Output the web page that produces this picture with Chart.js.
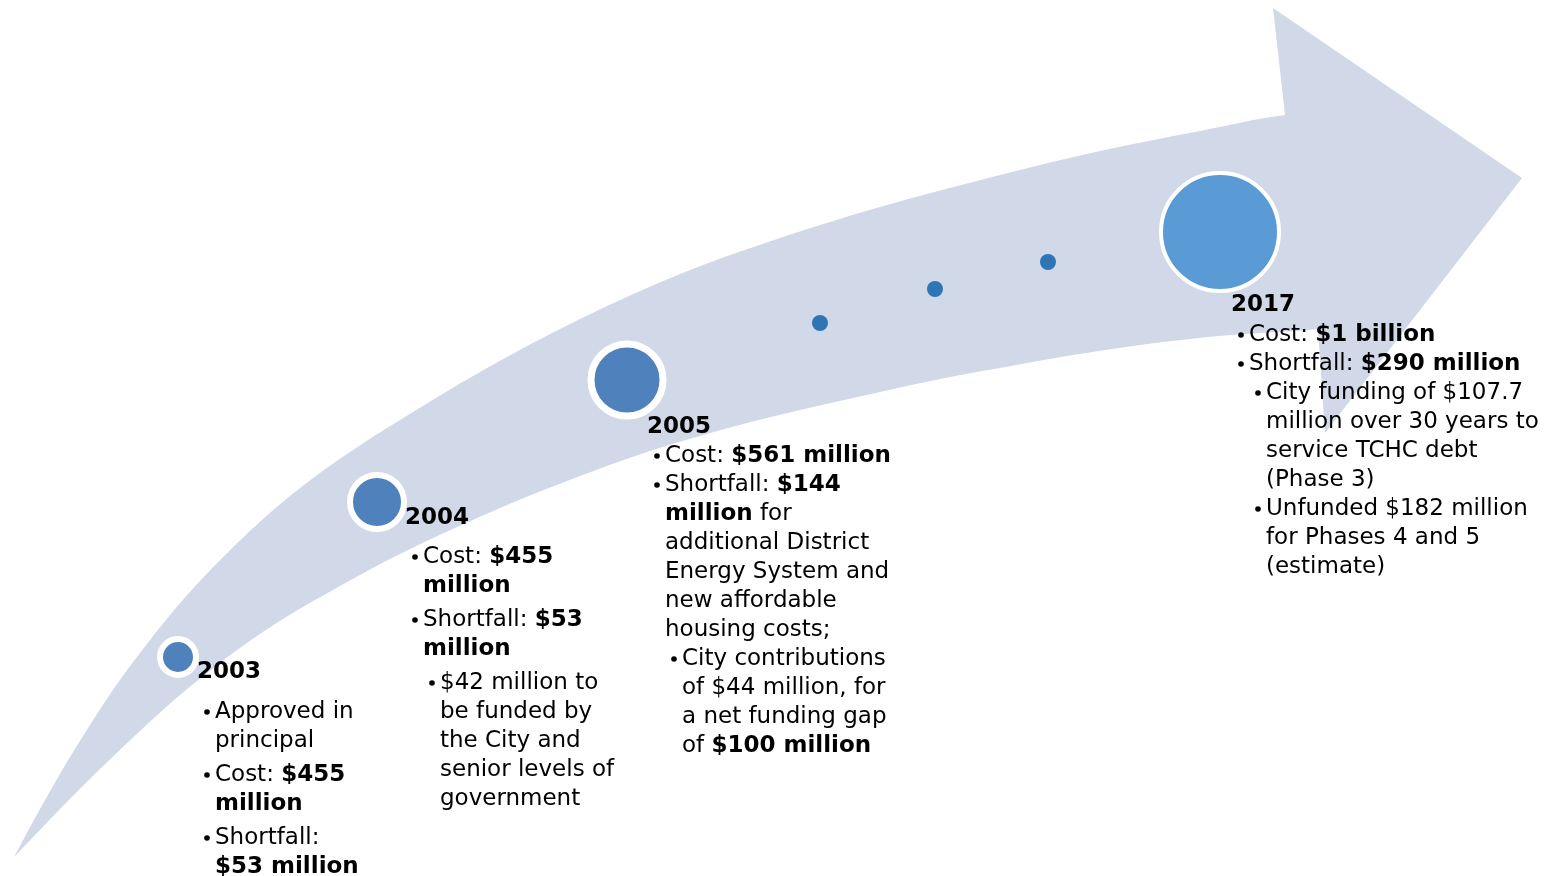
<!DOCTYPE html>
<html>
<head>
<meta charset="utf-8">
<script src="https://cdn.jsdelivr.net/npm/chart.js@4/dist/chart.umd.min.js"></script>
<style>
	body { margin: 0; background: #fff; }
	canvas { display: block; }
</style>
</head>
<body>
<canvas id="timeline" width="1551" height="876"></canvas>
<script>
// arrow outline, in page units (x right, y down)
const arrowUpper = [[14,857],[40,809],[67,762],[90,725],[115,687],[140,653],[170,615],[200,581],[250,531],
	[300,488],[350,452],[400,420],[480,372],[580,319],[680,274],[780,238],[880,207],[1000,175],[1100,151],
	[1200,131],[1285,115]];
// shaft end, tucked under the head
const arrowShaftEnd = [[1380,110],[1380,320]];
const arrowLower = [[1318,329],[1231,335],[1190,339],[1140,345],[1067,356],[1000,368],[945,378],[880,392],
	[822,405],[747,423],[700,436],[650,451],[580,476],[500,508],[400,554],[340,586],[283,619],[233,653],
	[173,701],[140,731],[100,769],[60,809]];
const arrowHead = [[1285,115],[1273,8],[1522,178],[1325,433],[1318,329]];

// milestones
const years = ['2003', '2004', '2005', '2017'];
const milestoneX = [178, 377, 627, 1220];
const milestoneY = [657, 502, 380, 232];
const milestoneR = [18, 27, 36, 59];
const dotX = [820, 935, 1048];
const dotY = [323, 289, 262];

// text of each milestone: [level, lines...], **bold**
const notes2003 = [
	[1, 'Approved in', 'principal'],
	[1, 'Cost: **$455**', '**million**'],
	[1, 'Shortfall:', '**$53 million**']
];
const notes2004 = [
	[1, 'Cost: **$455**', '**million**'],
	[1, 'Shortfall: **$53**', '**million**'],
	[2, '$42 million to', 'be funded by', 'the City and', 'senior levels of', 'government']
];
const notes2005 = [
	[1, 'Cost: **$561 million**'],
	[1, 'Shortfall: **$144**', '**million** for', 'additional District', 'Energy System and', 'new affordable', 'housing costs;'],
	[2, 'City contributions', 'of $44 million, for', 'a net funding gap', 'of **$100 million**']
];
const notes2017 = [
	[1, 'Cost: **$1 billion**'],
	[1, 'Shortfall: **$290 million**'],
	[2, 'City funding of $107.7', 'million over 30 years to', 'service TCHC debt', '(Phase 3)'],
	[2, 'Unfunded $182 million', 'for Phases 4 and 5', '(estimate)']
];
const notes = [notes2003, notes2004, notes2005, notes2017];

// where each text block sits
const blockLayout = [
	{x: 197, y: 672, yearGap: 40, bulletGap: 5},
	{x: 405, y: 518, yearGap: 39, bulletGap: 5},
	{x: 647, y: 427, yearGap: 29, bulletGap: 0},
	{x: 1231, y: 305, yearGap: 30, bulletGap: 0}
];
const lineHeight = 29;
const fontSize = 23;
const fontFamily = '"DejaVu Sans", sans-serif';

const toPoints = list => list.map(p => ({x: p[0], y: p[1]}));
const shaftPoints = toPoints(arrowUpper.concat(arrowShaftEnd, arrowLower));
const headPoints = toPoints(arrowHead);

function drawRich(ctx, text, x, y) {
	const parts = text.split('**');
	parts.forEach((part, i) => {
		ctx.font = (i % 2 ? 'bold ' : '') + fontSize + 'px ' + fontFamily;
		ctx.fillText(part, x, y);
		x += ctx.measureText(part).width;
	});
}

const notesPlugin = {
	id: 'notes',
	afterDatasetsDraw(chart) {
		const ctx = chart.ctx;
		const sx = chart.scales.x, sy = chart.scales.y;
		ctx.save();
		ctx.fillStyle = '#000';
		ctx.textBaseline = 'middle';
		ctx.textAlign = 'left';
		years.forEach((year, i) => {
			const lay = blockLayout[i];
			const x0 = sx.getPixelForValue(lay.x);
			let y = sy.getPixelForValue(lay.y);
			ctx.font = 'bold ' + fontSize + 'px ' + fontFamily;
			ctx.fillText(year, x0, y);
			y += lay.yearGap;
			notes[i].forEach((item, k) => {
				if (k > 0) y += lay.bulletGap;
				const level = item[0];
				const bx = x0 + (level === 1 ? 10 : 27);
				const tx = x0 + (level === 1 ? 18 : 35);
				ctx.beginPath();
				ctx.arc(bx, y, 2.8, 0, Math.PI * 2);
				ctx.fill();
				item.slice(1).forEach((line, j) => {
					if (j > 0) y += lineHeight;
					drawRich(ctx, line, tx, y);
				});
				y += lineHeight;
			});
		});
		ctx.restore();
	}
};

const ctx = document.getElementById('timeline').getContext('2d');
new Chart(ctx, {
	type: 'bubble',
	data: {
		datasets: [
			{
				type: 'scatter',
				data: shaftPoints,
				showLine: true,
				fill: 'shape',
				cubicInterpolationMode: 'monotone',
				backgroundColor: '#D1D8E8',
				borderWidth: 0,
				pointRadius: 0,
				order: 4
			},
			{
				type: 'scatter',
				data: headPoints,
				showLine: true,
				fill: 'shape',
				backgroundColor: '#D1D8E8',
				borderWidth: 0,
				pointRadius: 0,
				order: 3
			},
			{
				data: milestoneX.map((x, i) => ({x: x, y: milestoneY[i], r: milestoneR[i]})),
				backgroundColor: ['#4F81BD', '#4F81BD', '#4F81BD', '#5B9BD5'],
				borderColor: '#FFFFFF',
				borderWidth: [6, 6, 7, 4],
				order: 1
			},
			{
				data: dotX.map((x, i) => ({x: x, y: dotY[i], r: 8})),
				backgroundColor: '#2E75B6',
				borderWidth: 0,
				order: 2
			}
		]
	},
	options: {
		responsive: false,
		animation: false,
		events: [],
		layout: { padding: 0, autoPadding: false },
		plugins: { legend: { display: false }, tooltip: { enabled: false } },
		scales: {
			x: { type: 'linear', min: 0, max: 1551, display: false },
			y: { type: 'linear', min: 0, max: 876, reverse: true, display: false }
		}
	},
	plugins: [notesPlugin]
});
</script>
</body>
</html>
